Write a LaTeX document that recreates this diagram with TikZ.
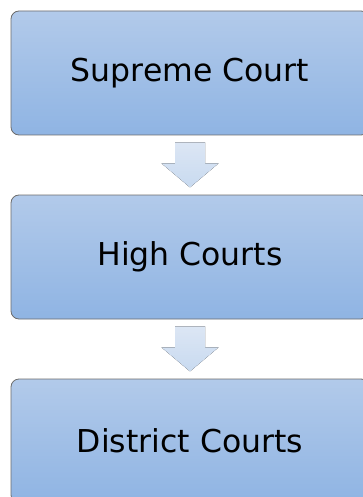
\documentclass[tikz,border=0pt]{standalone}
\usepackage{fontspec}
\setmainfont{DejaVu Sans}
\begin{document}
\begin{tikzpicture}[x=1pt,y=1pt,
  courtbox/.style={draw=gray!85!black, line width=0.8pt, rounded corners=8pt,
    top color=boxtop, bottom color=boxbot, minimum width=358pt, minimum height=124pt,
    inner sep=0pt, font=\fontsize{31.5}{36}\selectfont, text=black},
  downarrow/.style={top color=arrtop, bottom color=arrbot, draw=none}]
\definecolor{boxtop}{HTML}{B2CAEA}
\definecolor{boxbot}{HTML}{8FB4E3}
\definecolor{arrtop}{HTML}{DCE6F4}
\definecolor{arrbot}{HTML}{C8DAF0}
\useasboundingbox (0,0) rectangle (363,-497);
\node[courtbox] (sc) at (190,-73) {Supreme Court};
\node[courtbox] (hc) at (190,-257) {High Courts};
\node[courtbox] (dc) at (190,-441) {District Courts};
\foreach \t/\b in {sc/hc, hc/dc}{
  \path (\t.south) ++(0,-7) coordinate (\t-a);
  \fill[downarrow] (\t-a) ++(-15,0) -- ++(30,0) -- ++(0,-21) -- ++(13.5,0)
    -- ++(-28.5,-24) -- ++(-28.5,24) -- ++(13.5,0) -- cycle;
}
\end{tikzpicture}
\end{document}
